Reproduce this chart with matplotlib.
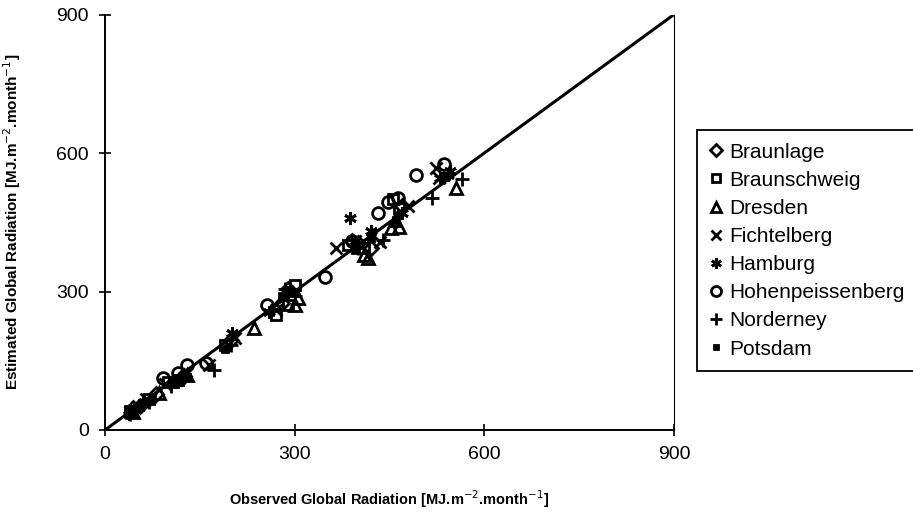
import matplotlib
matplotlib.use("Agg")
import matplotlib.pyplot as plt

plt.rcParams['font.family'] = ['Liberation Sans', 'DejaVu Sans']

# observed vs estimated monthly global radiation, MJ.m-2.month-1
braunlage_obs = [45, 80, 120, 200, 290, 390, 420, 470, 400, 280, 125, 55]
braunlage_est = [48, 78, 112, 195, 305, 410, 395, 485, 405, 275, 118, 52]

braunschweig_obs = [40, 70, 115, 190, 270, 300, 385, 410, 465, 455, 290, 100]
braunschweig_est = [42, 68, 108, 185, 250, 315, 400, 395, 480, 500, 270, 105]

dresden_obs = [45, 85, 130, 236, 306, 410, 416, 452, 458, 555, 465, 300]
dresden_est = [40, 80, 120, 221, 285, 380, 372, 437, 455, 524, 440, 270]

fichtelberg_obs = [40, 65, 95, 165, 205, 270, 365, 395, 435, 480, 523, 529]
fichtelberg_est = [38, 68, 100, 140, 200, 260, 395, 410, 407, 485, 567, 546]

hamburg_obs = [38, 60, 110, 201, 260, 290, 388, 420, 470, 530, 545, 542]
hamburg_est = [35, 58, 105, 210, 255, 300, 459, 430, 470, 545, 560, 552]

hohenp_obs = [91, 115, 130, 160, 256, 348, 390, 432, 448, 463, 492, 536]
hohenp_est = [113, 123, 141, 145, 271, 332, 410, 470, 494, 502, 552, 577]

norderney_obs = [40, 70, 105, 173, 200, 285, 440, 518, 565, 400, 300, 120]
norderney_est = [35, 60, 95, 130, 185, 305, 411, 502, 543, 395, 290, 110]

potsdam_obs = [45, 75, 110, 190, 280, 395, 460, 540, 420, 300, 130, 55]
potsdam_est = [45, 70, 100, 175, 290, 390, 455, 550, 415, 300, 115, 50]

stations = ["Braunlage", "Braunschweig", "Dresden", "Fichtelberg",
            "Hamburg", "Hohenpeissenberg", "Norderney", "Potsdam"]
observed = [braunlage_obs, braunschweig_obs, dresden_obs, fichtelberg_obs,
            hamburg_obs, hohenp_obs, norderney_obs, potsdam_obs]
estimated = [braunlage_est, braunschweig_est, dresden_est, fichtelberg_est,
             hamburg_est, hohenp_est, norderney_est, potsdam_est]

ticks = [0, 300, 600, 900]

markers = ['D', 's', '^', 'x', (6, 2, 0), 'o', '+', 's']
sizes = [7, 7.5, 8, 8, 9, 8.5, 10, 4]
filled = [False] * 7 + [True]

fig = plt.figure(figsize=(9.13, 5.13), dpi=100)
ax = fig.add_axes([105 / 913, 1 - 430 / 513, 569 / 913, 415.5 / 513])

ax.plot([ticks[0], ticks[-1]], [ticks[0], ticks[-1]], color='black', lw=2.2, zorder=1)

for name, xs, ys, m, s, f in zip(stations, observed, estimated, markers, sizes, filled):
    ax.plot(xs, ys, linestyle='none', marker=m, markersize=s,
            markerfacecolor='black' if f else 'none', markeredgecolor='black',
            markeredgewidth=2, label=name, zorder=2)

ax.set_xlim(ticks[0], ticks[-1])
ax.set_ylim(ticks[0], ticks[-1])
ax.set_xticks(ticks)
ax.set_yticks(ticks)
ax.tick_params(direction='inout', length=9, width=1.2, labelsize=14, pad=7)
ax.spines['top'].set_visible(False)
ax.spines['right'].set_linewidth(0.8)
ax.spines['left'].set_linewidth(1.4)
ax.spines['bottom'].set_linewidth(1.4)

ax.set_xlabel(r'Observed Global Radiation [MJ.m$^{-2}$.month$^{-1}$]',
              fontsize=10.5, fontweight='bold', labelpad=18)
ax.set_ylabel(r'Estimated Global Radiation [MJ.m$^{-2}$.month$^{-1}$]',
              fontsize=11, fontweight='bold', labelpad=24)

leg = fig.legend(loc='upper left', bbox_to_anchor=(697 / 913, 1 - 130 / 513),
                 fontsize=15, frameon=True, fancybox=False, framealpha=1,
                 edgecolor='black', handlelength=0.6, handletextpad=0.35,
                 labelspacing=0.44, borderpad=0.6, borderaxespad=0,
                 markerscale=0.85)
leg.get_frame().set_linewidth(1.3)

fig.savefig('out.png', dpi=100)
